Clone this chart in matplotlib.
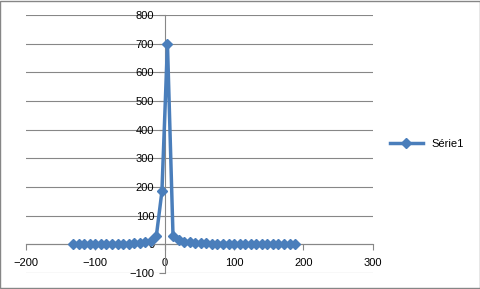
import matplotlib.pyplot as plt
from matplotlib.patches import Rectangle

plt.rcParams['font.family'] = ['Liberation Sans', 'DejaVu Sans']

# values
x_vals = [-132, -124, -116, -108, -100, -92, -84, -76, -68, -60, -52, -44,
          -36, -28, -20, -12, -4, 4, 12, 20, 28, 36, 44, 52, 60, 68, 76, 84,
          92, 100, 108, 116, 124, 132, 140, 148, 156, 164, 172, 180, 188]
y_vals = [2, 2, 2, 2, 2, 2, 2, 3, 3, 3, 3, 4,
          5, 7, 12, 30, 185, 698, 30, 16, 10, 7, 5, 4, 4, 3, 3, 3,
          3, 2, 2, 2, 2, 2, 2, 2, 2, 2, 2, 2, 2]
series_name = 'Série1'

fig = plt.figure(figsize=(4.81, 2.89), dpi=100)
ax = fig.add_axes([0.054, 0.055, 0.721, 0.893])

blue = '#4A7EBB'
ax.plot(x_vals, y_vals, color=blue, lw=2.5, marker='D', markersize=5,
        markerfacecolor=blue, markeredgecolor=blue, label=series_name,
        zorder=3)

ax.set_xlim(-200, 300)
ax.set_ylim(-100, 800)
ax.set_xticks(range(-200, 301, 100))
ax.set_yticks(range(-100, 801, 100))
ax.grid(axis='y', color='#878787', lw=0.8)
ax.set_axisbelow(True)

for s in ['top', 'right']:
    ax.spines[s].set_visible(False)
ax.spines['left'].set_position(('data', 0))
ax.spines['bottom'].set_position(('data', 0))
ax.spines['left'].set_color('#878787')
ax.spines['bottom'].set_color('#878787')
ax.tick_params(colors='#878787', labelcolor='black', labelsize=8,
               length=4, width=0.8)
ax.tick_params(axis='x', pad=6)

ax.legend(loc='center left', bbox_to_anchor=(1.02, 0.5), frameon=False,
          fontsize=8, handlelength=3)

fig.patches.append(Rectangle((0.001, 0.002), 0.997, 0.995,
                             transform=fig.transFigure, fill=False,
                             edgecolor='#868686', lw=1))

fig.savefig('out.png', dpi=100)
